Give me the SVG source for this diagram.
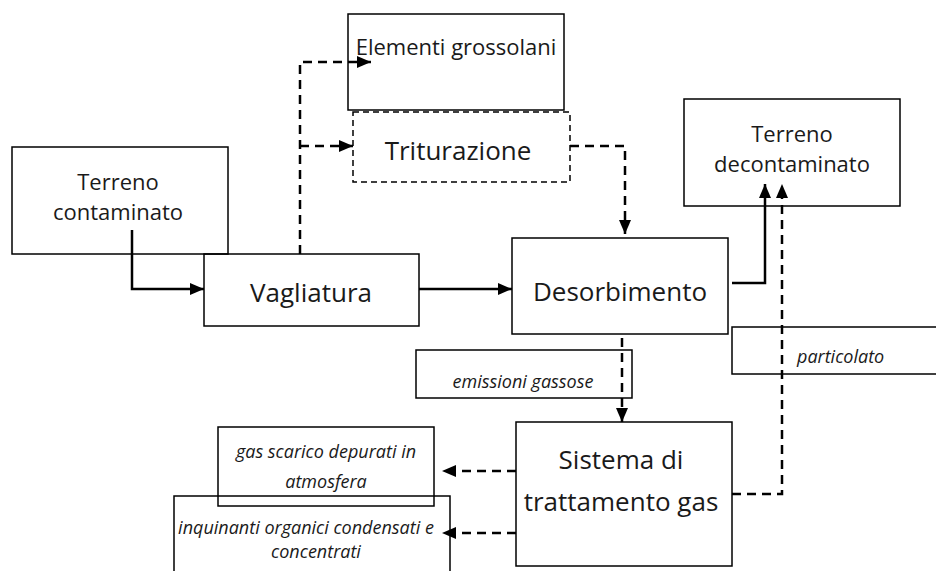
<svg xmlns="http://www.w3.org/2000/svg" width="936" height="571" viewBox="0 0 936 571">
<defs>
<marker id="ah" viewBox="0 0 14 12" refX="14" refY="6" markerWidth="14" markerHeight="12" markerUnits="userSpaceOnUse" orient="auto">
<path d="M0,0 L14,6 L0,12 Z" fill="#000"/>
</marker>
</defs>
<style>
.box{fill:none;stroke:#000;stroke-width:1.5}
.dbox{fill:none;stroke:#000;stroke-width:1.5;stroke-dasharray:6,4}
.t{font-family:"Open Sans","Noto Sans",sans-serif;fill:#1a1a1a;text-anchor:middle}
.s{font-size:22px}
.l{font-size:26px}
.i{font-size:18px;font-style:italic}
.c{fill:none;stroke:#000;stroke-width:2.5;marker-end:url(#ah)}
.d{stroke-dasharray:9,6}
</style>
<rect x="0" y="0" width="936" height="571" fill="#fff"/>
<g id="elementi">
<rect class="box" x="348" y="14" width="216" height="96"/>
<text class="t s" x="456" y="55">Elementi grossolani</text>
</g>
<g id="triturazione">
<rect class="dbox" x="353" y="112" width="217" height="70"/>
<text class="t l" x="458" y="160">Triturazione</text>
</g>
<g id="terreno-contaminato">
<rect class="box" x="12" y="147" width="216" height="107"/>
<text class="t s" x="118" y="190">Terreno</text>
<text class="t s" x="118" y="220">contaminato</text>
</g>
<g id="vagliatura">
<rect class="box" x="204" y="254" width="215" height="72"/>
<text class="t l" x="311" y="302">Vagliatura</text>
</g>
<g id="desorbimento">
<rect class="box" x="512" y="238" width="216" height="96"/>
<text class="t l" x="620" y="301">Desorbimento</text>
</g>
<g id="terreno-decontaminato">
<rect class="box" x="684" y="99" width="216" height="107"/>
<text class="t s" x="792" y="142">Terreno</text>
<text class="t s" x="792" y="172">decontaminato</text>
</g>
<g id="particolato">
<rect class="box" x="732" y="327" width="216" height="47"/>
<text class="t i" x="797" y="363" style="text-anchor:start">particolato</text>
</g>
<g id="emissioni">
<rect class="box" x="416" y="350" width="216" height="48"/>
<text class="t i" x="523" y="388">emissioni gassose</text>
</g>
<g id="sistema">
<rect class="box" x="516" y="422" width="216" height="144"/>
<text class="t l" x="621" y="469">Sistema di</text>
<text class="t l" x="621" y="511">trattamento gas</text>
</g>
<g id="gas-scarico">
<rect class="box" x="218" y="427" width="216" height="79"/>
<text class="t i" x="326" y="458">gas scarico depurati in</text>
<text class="t i" x="326" y="488">atmosfera</text>
</g>
<g id="inquinanti">
<rect class="box" x="174" y="496" width="276" height="90"/>
<text class="t i" x="306" y="534">inquinanti organici condensati e</text>
<text class="t i" x="316" y="558">concentrati</text>
</g>
<g id="connectors">
<path class="c" d="M132,230 V289 H204"/>
<path class="c" d="M419,289 H512"/>
<path class="c d" d="M300,254 V62 H371"/>
<path class="c d" d="M300,146 H353"/>
<path class="c d" d="M570,146 H625 V234"/>
<path class="c" d="M732,283 H765 V184"/>
<path class="c d" d="M622,338 V422"/>
<path class="c d" d="M516,471 H442"/>
<path class="c d" d="M516,533 H442"/>
<path class="c d" d="M732,494 H782 V184"/>
</g>
</svg>
